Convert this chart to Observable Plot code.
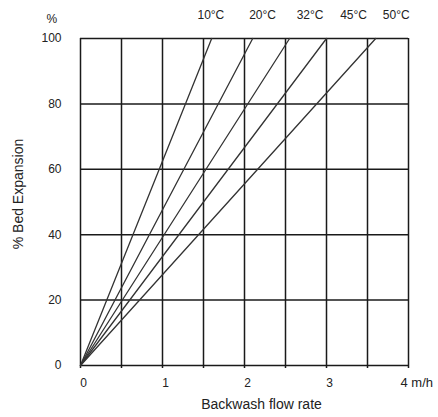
<!DOCTYPE html>
<html>
<head>
<meta charset="utf-8">
<script src="https://cdn.jsdelivr.net/npm/d3@7"></script>
<script src="https://cdn.jsdelivr.net/npm/@observablehq/plot@0.6"></script>
<style>
  html, body { margin: 0; padding: 0; background: #fff; }
</style>
</head>
<body>
<div id="chart"></div>
<script>
// Temperature series and the flow rate (m/h) at which each reaches 100 % expansion
const temps = ["10°C", "20°C", "32°C", "45°C", "50°C"];
const flowAt100 = [1.6, 2.1, 2.55, 3.0, 3.6];
// header label positions (flow units)
const labelFlow = [1.59, 2.22, 2.80, 3.33, 3.85];
// grid and ticks
const gridX = [0, 0.5, 1, 1.5, 2, 2.5, 3, 3.5, 4];
const gridY = [0, 20, 40, 60, 80, 100];
const xTicks = [0, 1, 2, 3];
const yTicks = [0, 20, 40, 60, 80, 100];

const rows = temps.flatMap((t, i) => [
  {temp: t, flow: 0, exp: 0},
  {temp: t, flow: flowAt100[i], exp: 100}
]);
const labels = temps.map((t, i) => ({temp: t, flow: labelFlow[i], exp: 100}));

const chart = Plot.plot({
  width: 438,
  height: 417,
  marginLeft: 80,
  marginRight: 30,
  marginTop: 38,
  marginBottom: 52,
  x: {domain: [0, 4]},
  y: {domain: [0, 100]},
  style: {fontFamily: "'Liberation Sans', Arial, sans-serif", fontSize: "12px", color: "#222", background: "#fff"},
  marks: [
    Plot.ruleX(gridX, {x: d => d, y1: 0, y2: 100, stroke: "#1a1a1a", strokeWidth: 1.5}),
    Plot.ruleY(gridY, {y: d => d, x1: 0, x2: 4, stroke: "#1a1a1a", strokeWidth: 1.5}),
    Plot.axisX({ticks: gridX, tickSize: 3, tickFormat: () => "", stroke: "#1a1a1a", strokeWidth: 1.5, label: null}),
    Plot.line(rows, {x: "flow", y: "exp", z: "temp", stroke: "#333", strokeWidth: 1.3}),
    Plot.axisY({ticks: yTicks, tickSize: 0, tickPadding: 19, label: null, fontSize: 12}),
    Plot.axisX({ticks: xTicks, tickSize: 0, tickPadding: 13, dx: 3, tickFormat: d3.format("d"), label: null, fontSize: 12}),
    Plot.text(labels, {x: "flow", y: "exp", text: "temp", dy: -23, fontSize: 12, fill: "#222"}),
    Plot.text(["4 m/h"], {x: 4, y: 0, text: d => d, textAnchor: "start", dx: -8, dy: 17, fontSize: 13, fill: "#222"}),
    Plot.text(["%"], {frameAnchor: "top-left", text: d => d, dx: -34, dy: -24, fontSize: 12, fill: "#222"}),
    Plot.text(["% Bed Expansion"], {frameAnchor: "left", text: d => d, textAnchor: "middle", rotate: -90, dx: -62, dy: -8, fontSize: 14, fill: "#222"}),
    Plot.text(["Backwash flow rate"], {frameAnchor: "bottom", text: d => d, dx: 17, dy: 43, fontSize: 14, fill: "#222"})
  ]
});
document.getElementById("chart").appendChild(chart);
</script>
</body>
</html>
